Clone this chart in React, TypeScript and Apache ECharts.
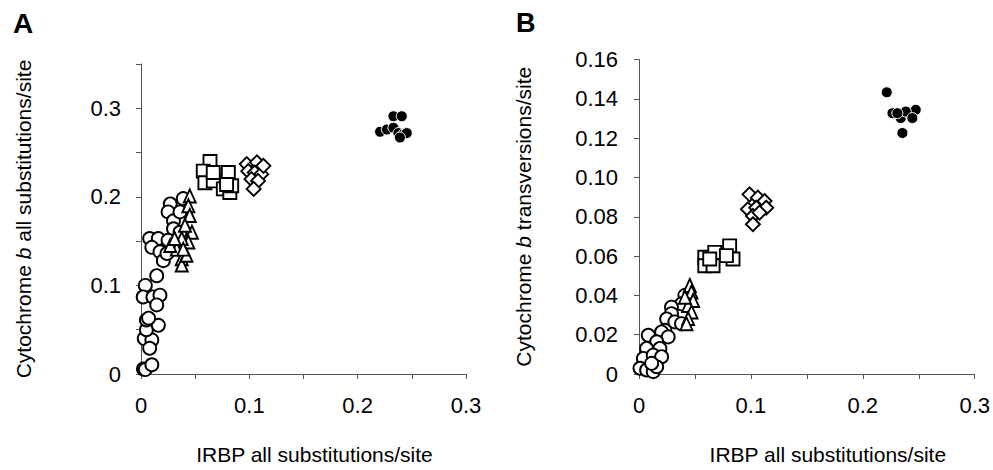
import React, { useEffect, useRef } from "react";
import * as echarts from "echarts";

// Panel A: IRBP all substitutions/site (x) vs Cytochrome b all substitutions/site (y)
const openCirclesA: [number, number][] = [
  [0.0023, 0.0056], [0.004, 0.005], [0.01, 0.0104], [0.003, 0.04], [0.01, 0.0385],
  [0.008, 0.029], [0.005, 0.05], [0.005, 0.061], [0.016, 0.055], [0.007, 0.063],
  [0.004, 0.1], [0.002, 0.087], [0.011, 0.087], [0.0175, 0.089], [0.0145, 0.111],
  [0.0145, 0.078], [0.008, 0.153], [0.016, 0.153], [0.01, 0.143], [0.0175, 0.138],
  [0.0206, 0.128], [0.027, 0.192], [0.025, 0.183], [0.03, 0.173], [0.036, 0.183],
  [0.039, 0.198], [0.03, 0.164], [0.025, 0.151], [0.03, 0.141], [0.024, 0.136],
  [0.036, 0.16],
];
const trianglesA: [number, number][] = [
  [0.045, 0.201], [0.0437, 0.19], [0.045, 0.179], [0.047, 0.16], [0.0437, 0.149],
  [0.0376, 0.153], [0.033, 0.141], [0.0376, 0.13], [0.0376, 0.123], [0.042, 0.134],
  [0.027, 0.145], [0.031, 0.153], [0.0406, 0.168], [0.039, 0.141],
];
const squaresA: [number, number][] = [
  [0.0637, 0.24], [0.0575, 0.229], [0.059, 0.216], [0.0667, 0.218], [0.0667, 0.2275],
  [0.0806, 0.2275], [0.076, 0.209], [0.082, 0.205], [0.0837, 0.2125], [0.079, 0.214],
];
const diamondsA: [number, number][] = [
  [0.0976, 0.237], [0.107, 0.239], [0.099, 0.229], [0.105, 0.2275], [0.111, 0.2256],
  [0.102, 0.22], [0.108, 0.218], [0.104, 0.209], [0.113, 0.235],
];
const filledCirclesA: [number, number][] = [
  [0.233, 0.291], [0.2407, 0.291], [0.2207, 0.2735], [0.2269, 0.276], [0.233, 0.278],
  [0.2376, 0.272], [0.2422, 0.2705], [0.2453, 0.272], [0.239, 0.267],
];

// Panel B: IRBP all substitutions/site (x) vs Cytochrome b transversions/site (y)
const openCirclesB: [number, number][] = [
  [0.041, 0.04], [0.038, 0.0357], [0.029, 0.034], [0.029, 0.0307], [0.0247, 0.028],
  [0.032, 0.0265], [0.038, 0.0256], [0.0231, 0.0222], [0.0202, 0.0214], [0.0261, 0.0189],
  [0.0083, 0.0197], [0.0158, 0.0164], [0.0187, 0.013], [0.0068, 0.013], [0.0039, 0.0079],
  [0.0127, 0.0096], [0.0202, 0.0088], [0.0009, 0.0029], [0.0068, 0.002], [0.0127, 0.0012],
  [0.0158, 0.0037], [0.0113, 0.0054],
];
const trianglesB: [number, number][] = [
  [0.0454, 0.045], [0.0469, 0.0417], [0.0484, 0.0374], [0.0439, 0.0349], [0.0469, 0.0316],
  [0.0439, 0.0282], [0.0424, 0.0256], [0.041, 0.0391],
];
const squaresB: [number, number][] = [
  [0.0588, 0.0594], [0.0588, 0.0551], [0.0662, 0.0551], [0.0677, 0.0619], [0.0632, 0.0585],
  [0.081, 0.0652], [0.084, 0.0585], [0.0781, 0.0602],
];
const diamondsB: [number, number][] = [
  [0.0988, 0.0914], [0.1062, 0.0897], [0.1122, 0.088], [0.0973, 0.0838], [0.1048, 0.0846],
  [0.1137, 0.0846], [0.1018, 0.0804], [0.1077, 0.0821], [0.1018, 0.0762],
];
const filledCirclesB: [number, number][] = [
  [0.2214, 0.1433], [0.2265, 0.1327], [0.2339, 0.1302], [0.2428, 0.1318], [0.2473, 0.1344],
  [0.2384, 0.1335], [0.2354, 0.1226], [0.2309, 0.1327], [0.2443, 0.1302],
];

const xAxisName = "IRBP all substitutions/site";
const yAxisNameA = "Cytochrome {i|b} all substitutions/site";
const yAxisNameB = "Cytochrome {i|b} transversions/site";

const FONT = "Liberation Sans, Arial, Helvetica, sans-serif";

const tenthFmt = (v: number) => {
  const r = Math.round(v * 100);
  if (r % 10 !== 0) return "";
  return r === 0 ? "0" : (r / 100).toFixed(1);
};
const hundredthFmt = (v: number) => (Math.abs(v) < 1e-9 ? "0" : v.toFixed(2));

export default function App() {
  const ref = useRef<HTMLDivElement>(null);
  useEffect(() => {
    if (!ref.current) return;
    const chart = echarts.init(ref.current, undefined, { renderer: "svg" });
    const axisLine = { show: true, onZero: false, lineStyle: { color: "#555", width: 1 } };
    const axisTick = { show: true, inside: false, length: 5, lineStyle: { color: "#555", width: 1 } };
    const labelStyle = { color: "#000", fontSize: 22, fontFamily: FONT };
    const nameStyle = { color: "#000", fontSize: 21, fontFamily: FONT };
    const richName = { i: { fontStyle: "italic" as const, fontSize: 21, fontFamily: FONT, color: "#000" } };

    const openStyle = { color: "#fff", borderColor: "#000", borderWidth: 1.9, opacity: 1 };
    const filledStyle = { color: "#000", borderColor: "#fff", borderWidth: 1, opacity: 1 };

    const mk = (data: [number, number][], symbol: string, size: any, style: any, idx: number) => ({
      type: "scatter",
      xAxisIndex: idx,
      yAxisIndex: idx,
      data,
      symbol,
      symbolSize: size,
      itemStyle: style,
      silent: true,
    });

    const xAxisCommon = {
      type: "value",
      min: 0,
      max: 0.3,
      interval: 0.05,
      name: xAxisName,
      nameLocation: "middle",
      nameGap: 70,
      axisLine,
      axisTick,
      splitLine: { show: false },
      axisLabel: { ...labelStyle, margin: 20, formatter: tenthFmt, showMinLabel: true, showMaxLabel: true },
    };

    chart.setOption({
      animation: false,
      backgroundColor: "#fff",
      grid: [
        { left: 141, top: 64, width: 325, height: 312, containLabel: false },
        { left: 639, top: 59.5, width: 337, height: 316.5, containLabel: false },
      ],
      xAxis: [
        { ...xAxisCommon, gridIndex: 0, nameTextStyle: { ...nameStyle, padding: [0, 0, 0, 22] } },
        { ...xAxisCommon, gridIndex: 1, nameTextStyle: { ...nameStyle, padding: [0, 0, 0, 42] } },
      ],
      yAxis: [
        {
          type: "value",
          gridIndex: 0,
          min: 0,
          max: 0.35,
          interval: 0.05,
          name: yAxisNameA,
          nameLocation: "middle",
          nameGap: 107,
          nameTextStyle: { ...nameStyle, rich: richName },
          axisLine,
          axisTick,
          splitLine: { show: false },
          axisLabel: { ...labelStyle, margin: 20, formatter: tenthFmt },
        },
        {
          type: "value",
          gridIndex: 1,
          min: 0,
          max: 0.16,
          interval: 0.02,
          name: yAxisNameB,
          nameLocation: "middle",
          nameGap: 105,
          nameTextStyle: { ...nameStyle, rich: richName },
          axisLine,
          axisTick,
          splitLine: { show: false },
          axisLabel: { ...labelStyle, margin: 21, formatter: hundredthFmt },
        },
      ],
      graphic: [
        { type: "text", left: 13, top: 9, style: { text: "A", font: `bold 28px ${FONT}`, fill: "#000" } },
        { type: "text", left: 516, top: 9, style: { text: "B", font: `bold 27px ${FONT}`, fill: "#000" } },
      ],
      series: [
        mk(openCirclesA, "circle", 13, openStyle, 0),
        mk(trianglesA, "triangle", [12, 13], openStyle, 0),
        mk(squaresA, "rect", 13, openStyle, 0),
        mk(diamondsA, "diamond", [14, 14], openStyle, 0),
        mk(filledCirclesA, "circle", 11, filledStyle, 0),
        mk(openCirclesB, "circle", 13, openStyle, 1),
        mk(trianglesB, "triangle", [12, 13], openStyle, 1),
        mk(squaresB, "rect", 13, openStyle, 1),
        mk(diamondsB, "diamond", [14, 14], openStyle, 1),
        mk(filledCirclesB, "circle", 11, filledStyle, 1),
      ],
    });
    return () => chart.dispose();
  }, []);
  return (
    <div
      ref={ref}
      style={{ position: "absolute", left: 0, top: 0, width: 993, height: 470, background: "#fff" }}
    />
  );
}
